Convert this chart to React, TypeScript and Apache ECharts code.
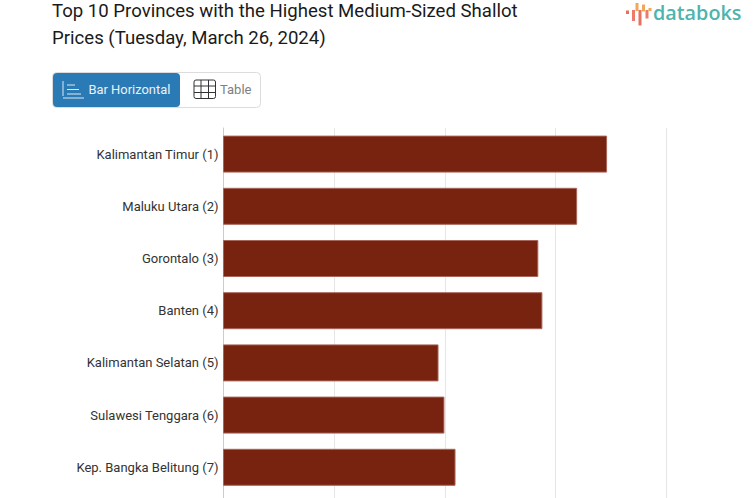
import React, { useEffect, useRef } from "react";
import * as echarts from "echarts";

const titleLines = [
  "Top 10 Provinces with the Highest Medium-Sized Shallot",
  "Prices (Tuesday, March 26, 2024)",
];
const categories = [
  "Kalimantan Timur (1)",
  "Maluku Utara (2)",
  "Gorontalo (3)",
  "Banten (4)",
  "Kalimantan Selatan (5)",
  "Sulawesi Tenggara (6)",
  "Kep. Bangka Belitung (7)",
];
const prices = [51950, 47900, 42650, 43200, 29150, 29950, 31450];
const FONT = "Roboto";

const line = (x1: number, y1: number, x2: number, y2: number, stroke: string, lineWidth = 1) => ({
  type: "line",
  shape: { x1, y1, x2, y2 },
  style: { stroke, lineWidth },
  silent: true,
});
const rect = (x: number, y: number, width: number, height: number, fill: string) => ({
  type: "rect",
  shape: { x, y, width, height },
  style: { fill },
  silent: true,
});

export default function App() {
  const ref = useRef<HTMLDivElement>(null);
  useEffect(() => {
    document.body.style.margin = "0";
    const chart = echarts.init(ref.current!, undefined, { renderer: "svg" });
    chart.setOption({
      animation: false,
      backgroundColor: "#ffffff",
      grid: { left: 223, top: 128, width: 443.6, height: 417.6, containLabel: false, outerBoundsMode: "none" },
      xAxis: {
        type: "value",
        min: 0,
        max: 60000,
        interval: 15000,
        axisLabel: { show: false },
        axisTick: { show: false },
        axisLine: { show: false },
        splitLine: { show: true, lineStyle: { color: "#e6e6e6", width: 1 } },
      },
      yAxis: {
        type: "category",
        data: categories,
        inverse: true,
        max: 7,
        axisTick: { show: false },
        axisLine: { show: true, lineStyle: { color: "#cccccc", width: 1 } },
        axisLabel: { fontFamily: FONT, fontSize: 13, color: "#333333", margin: 4.5, padding: [2, 0, 0, 0] },
      },
      series: [
        {
          type: "bar",
          data: prices,
          barWidth: 37,
          itemStyle: { color: "#782210", borderColor: "#a8655a", borderWidth: 1 },
          silent: true,
        },
      ],
      graphic: [
        {
          type: "text",
          x: 52,
          y: 1.5,
          style: { text: titleLines[0], fontFamily: FONT, fontSize: 18.6, fontWeight: 400, fill: "#1a1a1a" },
        },
        {
          type: "text",
          x: 52,
          y: 28,
          style: { text: titleLines[1], fontFamily: FONT, fontSize: 18.6, fontWeight: 400, fill: "#1a1a1a" },
        },
        {
          type: "rect",
          shape: { x: 52.5, y: 72.5, width: 208, height: 35, r: 4 },
          style: { fill: "#ffffff", stroke: "#dcdcdc", lineWidth: 1 },
        },
        {
          type: "rect",
          shape: { x: 53, y: 73, width: 127, height: 34, r: 4 },
          style: { fill: "#2a7ab5" },
        },
        line(63, 81, 63, 96, "#dbe9f3"),
        line(63, 98, 84, 98, "#dbe9f3"),
        line(67, 85, 75, 85, "#dbe9f3"),
        line(67, 89.5, 79, 89.5, "#dbe9f3"),
        line(67, 94, 81, 94, "#dbe9f3"),
        {
          type: "text",
          x: 88.5,
          y: 83,
          style: { text: "Bar Horizontal", fontFamily: FONT, fontSize: 12.9, fill: "#eaf2f8" },
        },
        {
          type: "rect",
          shape: { x: 194, y: 80, width: 21.5, height: 18.5, r: 2 },
          style: { fill: "none", stroke: "#333333", lineWidth: 1 },
        },
        line(201, 80, 201, 98.5, "#333333"),
        line(208.5, 80, 208.5, 98.5, "#333333"),
        line(194, 86, 215.5, 86, "#333333"),
        line(194, 92.5, 215.5, 92.5, "#333333"),
        {
          type: "text",
          x: 220,
          y: 83,
          style: { text: "Table", fontFamily: FONT, fontSize: 13, fill: "#808080" },
        },
        rect(626, 10.5, 3, 3.5, "#e8705f"),
        rect(632, 10, 3, 11, "#ee7a6a"),
        rect(635.5, 3, 3, 8, "#f2a65a"),
        rect(638.5, 10, 3, 15.5, "#e8705f"),
        rect(642, 4.5, 3, 7, "#f2a65a"),
        rect(645.5, 10, 3, 8.5, "#ee7a6a"),
        rect(648.5, 8, 3, 3, "#f2a65a"),
        {
          type: "text",
          x: 653,
          y: 2,
          style: { text: "databoks", fontFamily: "Open Sans", fontSize: 19.8, fontWeight: 600, fill: "#4fb3ae" },
        },
      ],
    });
    return () => chart.dispose();
  }, []);
  return <div ref={ref} style={{ width: 753, height: 498 }} />;
}
